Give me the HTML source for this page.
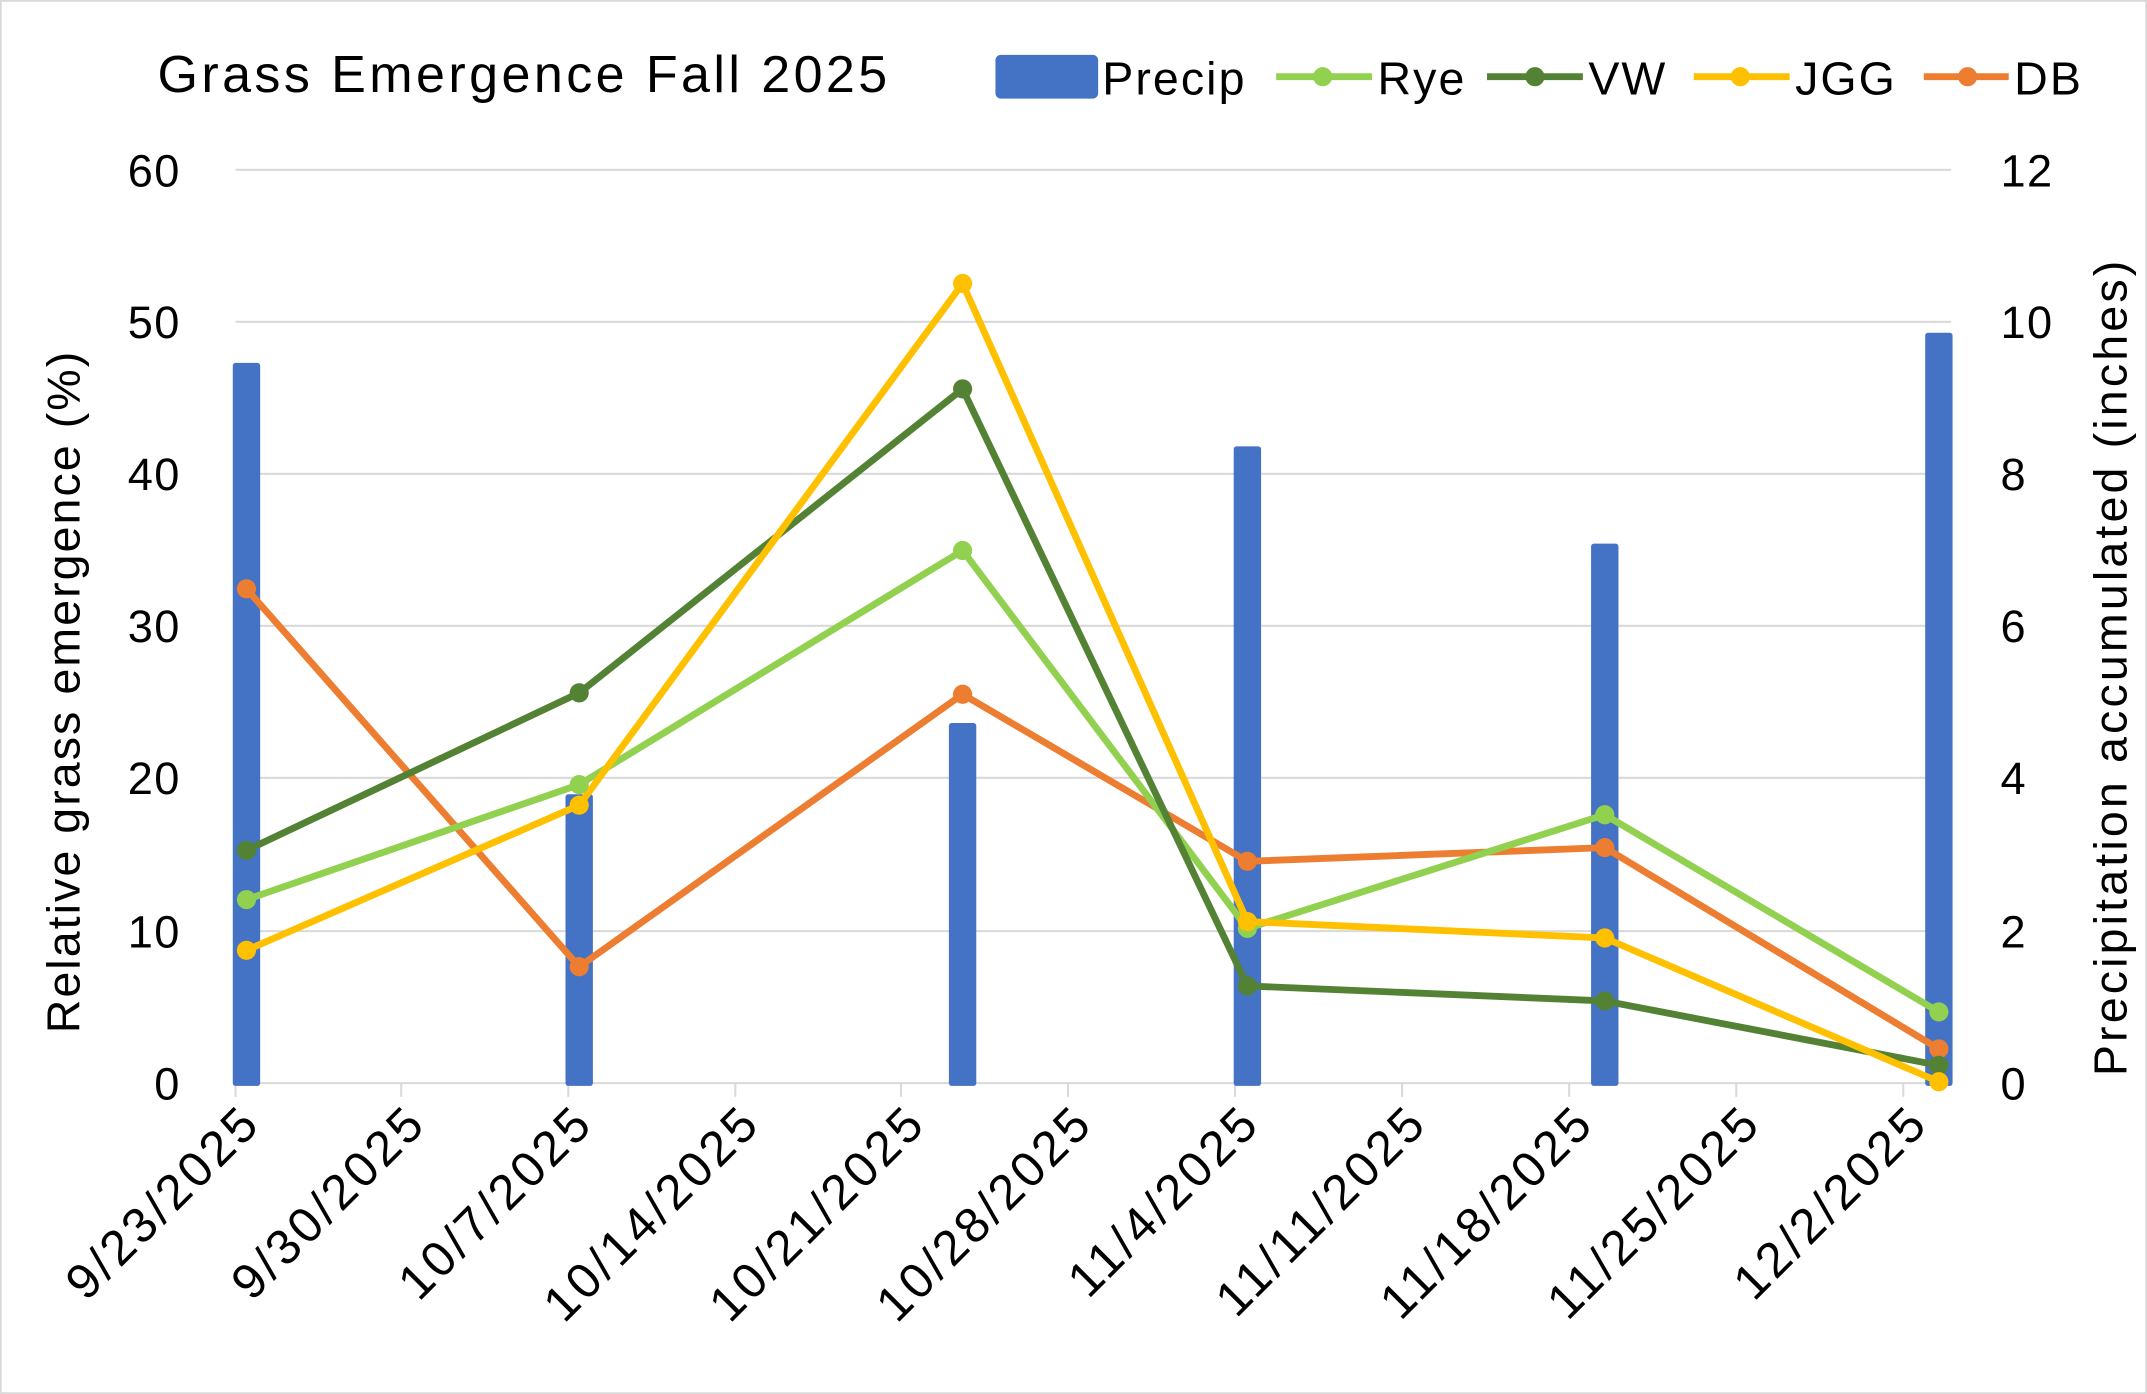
<!DOCTYPE html>
<html><head><meta charset="utf-8"><style>html,body{margin:0;padding:0;background:#fff}svg{display:block}</style></head>
<body>
<svg width="2147" height="1394" viewBox="0 0 1568 1018" xmlns="http://www.w3.org/2000/svg" font-family="Liberation Sans, sans-serif">
<rect x="0.5" y="0.5" width="1567" height="1017" fill="#fff" stroke="#d9d9d9" stroke-width="1.5"/>
<g stroke="#d9d9d9" stroke-width="1.5">
<line x1="172" y1="124" x2="1425" y2="124"/><line x1="172" y1="235" x2="1425" y2="235"/>
<line x1="172" y1="346" x2="1425" y2="346"/><line x1="172" y1="457" x2="1425" y2="457"/>
<line x1="172" y1="568" x2="1425" y2="568"/><line x1="172" y1="680" x2="1425" y2="680"/>
<line x1="172" y1="791" x2="1425" y2="791"/>
<line x1="172" y1="791" x2="172" y2="801"/><line x1="293" y1="791" x2="293" y2="801"/>
<line x1="415" y1="791" x2="415" y2="801"/><line x1="537" y1="791" x2="537" y2="801"/>
<line x1="658" y1="791" x2="658" y2="801"/><line x1="780" y1="791" x2="780" y2="801"/>
<line x1="902" y1="791" x2="902" y2="801"/><line x1="1024" y1="791" x2="1024" y2="801"/>
<line x1="1146" y1="791" x2="1146" y2="801"/><line x1="1268" y1="791" x2="1268" y2="801"/>
<line x1="1390" y1="791" x2="1390" y2="801"/>
</g>
<g fill="#4472c4">
<rect x="170" y="265" width="20" height="528" rx="2"/>
<rect x="413" y="580" width="20" height="213" rx="2"/>
<rect x="693" y="528" width="20" height="265" rx="2"/>
<rect x="901" y="326" width="20" height="467" rx="2"/>
<rect x="1162" y="397" width="20" height="396" rx="2"/>
<rect x="1406" y="243" width="20" height="550" rx="2"/>
</g>
<g fill="none" stroke-width="5" stroke-linejoin="round">
<polyline stroke="#ed7d31" points="180,430 423,706 703,507 911,629 1172,619 1416,766"/>
<polyline stroke="#92d050" points="180,657 423,573 703,402 911,678 1172,595 1416,739"/>
<polyline stroke="#548235" points="180,621 423,506 703,284 911,720 1172,731 1416,778"/>
<polyline stroke="#ffc000" points="180,694 423,588 703,207 911,673 1172,685 1416,790"/>
</g>
<g fill="#ed7d31"><circle cx="180" cy="430" r="7"/><circle cx="423" cy="706" r="7"/><circle cx="703" cy="507" r="7"/><circle cx="911" cy="629" r="7"/><circle cx="1172" cy="619" r="7"/><circle cx="1416" cy="766" r="7"/></g>
<g fill="#92d050"><circle cx="180" cy="657" r="7"/><circle cx="423" cy="573" r="7"/><circle cx="703" cy="402" r="7"/><circle cx="911" cy="678" r="7"/><circle cx="1172" cy="595" r="7"/><circle cx="1416" cy="739" r="7"/></g>
<g fill="#548235"><circle cx="180" cy="621" r="7"/><circle cx="423" cy="506" r="7"/><circle cx="703" cy="284" r="7"/><circle cx="911" cy="720" r="7"/><circle cx="1172" cy="731" r="7"/><circle cx="1416" cy="778" r="7"/></g>
<g fill="#ffc000"><circle cx="180" cy="694" r="7"/><circle cx="423" cy="588" r="7"/><circle cx="703" cy="207" r="7"/><circle cx="911" cy="673" r="7"/><circle cx="1172" cy="685" r="7"/><circle cx="1416" cy="790" r="7"/></g>
<g font-size="33" fill="#000" text-anchor="end" letter-spacing="1">
<text x="132" y="136">60</text><text x="132" y="247">50</text><text x="132" y="358">40</text>
<text x="132" y="469">30</text><text x="132" y="580">20</text><text x="132" y="692">10</text><text x="132" y="803">0</text>
</g>
<g font-size="33" fill="#000" letter-spacing="1">
<text x="1461" y="136">12</text><text x="1461" y="247">10</text><text x="1461" y="358">8</text>
<text x="1461" y="469">6</text><text x="1461" y="580">4</text><text x="1461" y="692">2</text><text x="1461" y="803">0</text>
</g>
<g font-size="36" fill="#000" text-anchor="end" letter-spacing="2.5">
<text transform="translate(192,822) rotate(-45)">9/23/2025</text>
<text transform="translate(313,822) rotate(-45)">9/30/2025</text>
<text transform="translate(435,822) rotate(-45)">10/7/2025</text>
<text transform="translate(557,822) rotate(-45)">10/14/2025</text>
<text transform="translate(678,822) rotate(-45)">10/21/2025</text>
<text transform="translate(800,822) rotate(-45)">10/28/2025</text>
<text transform="translate(922,822) rotate(-45)">11/4/2025</text>
<text transform="translate(1044,822) rotate(-45)">11/11/2025</text>
<text transform="translate(1166,822) rotate(-45)">11/18/2025</text>
<text transform="translate(1288,822) rotate(-45)">11/25/2025</text>
<text transform="translate(1410,822) rotate(-45)">12/2/2025</text>
</g>
<text transform="translate(58,505) rotate(-90)" font-size="34" letter-spacing="1.5" text-anchor="middle">Relative grass emergence (%)</text>
<text transform="translate(1553,487) rotate(-90)" font-size="34" letter-spacing="2.3" text-anchor="middle">Precipitation accumulated (inches)</text>
<text x="115" y="67" font-size="38" letter-spacing="2.5">Grass Emergence Fall 2025</text>
<rect x="727" y="40" width="75" height="32" rx="4" fill="#4472c4"/>
<g font-size="34" letter-spacing="1.5"><text x="805" y="69">Precip</text><text x="1006" y="69">Rye</text><text x="1160" y="69">VW</text><text x="1311" y="69">JGG</text><text x="1471" y="69">DB</text></g>
<g stroke-width="5"><line x1="932" y1="56" x2="1002" y2="56" stroke="#92d050"/><line x1="1086" y1="56" x2="1156" y2="56" stroke="#548235"/><line x1="1237" y1="56" x2="1307" y2="56" stroke="#ffc000"/><line x1="1405" y1="56" x2="1467" y2="56" stroke="#ed7d31"/></g>
<circle cx="966" cy="56" r="7" fill="#92d050"/><circle cx="1121" cy="56" r="7" fill="#548235"/><circle cx="1271" cy="56" r="7" fill="#ffc000"/><circle cx="1437" cy="56" r="7" fill="#ed7d31"/>
</svg>
</body></html>
